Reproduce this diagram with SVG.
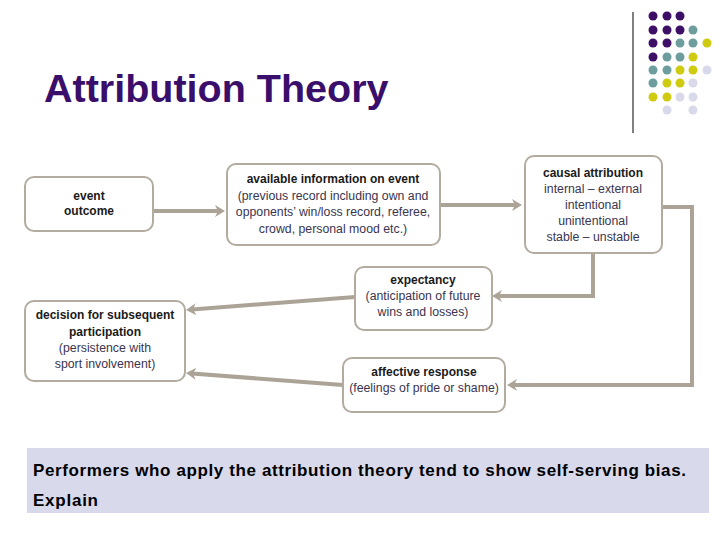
<svg xmlns="http://www.w3.org/2000/svg" width="728" height="546" viewBox="0 0 728 546">
<style>
.box{fill:#fff;stroke:#b3ab9f;stroke-width:2}
.h{font-family:"Liberation Sans",Arial,sans-serif;font-weight:bold;font-size:12px;fill:#1a1a1a;text-anchor:middle}
.t{font-family:"Liberation Sans",Arial,sans-serif;font-size:12.3px;fill:#3a3550;text-anchor:middle}
.q{font-family:"Liberation Sans",Arial,sans-serif;font-weight:bold;font-size:17px;fill:#000}
.c{fill:none;stroke:#aba395;stroke-width:4;marker-end:url(#ah)}
.p{fill:#3d0f66}.g{fill:#6e9d9e}.y{fill:#cfcb10}.l{fill:#d9d9ec}
</style>
<defs>
<marker id="ah" markerUnits="userSpaceOnUse" viewBox="0 0 10 12" refX="4" refY="6" markerWidth="10" markerHeight="12" orient="auto">
<path d="M0,0 L10,6 L0,12 L3,6 Z" fill="#aba395"/>
</marker>
</defs>
<rect width="728" height="546" fill="#fff"/>
<g id="title">
<text x="44" y="102" font-family="'Liberation Sans',Arial,sans-serif" font-weight="bold" font-size="39.5" fill="#3a0f6b">Attribution Theory</text>
</g>
<g id="decor">
<line x1="633" y1="12" x2="633" y2="133" stroke="#000" stroke-width="1"/>
<circle class="p" cx="653" cy="16" r="4.5"/><circle class="p" cx="667" cy="16" r="4.5"/><circle class="p" cx="680" cy="16" r="4.5"/>
<circle class="p" cx="653" cy="30" r="4.5"/><circle class="p" cx="667" cy="30" r="4.5"/><circle class="p" cx="680" cy="30" r="4.5"/><circle class="g" cx="693" cy="30" r="4.5"/>
<circle class="p" cx="653" cy="43" r="4.5"/><circle class="p" cx="667" cy="43" r="4.5"/><circle class="g" cx="680" cy="43" r="4.5"/><circle class="g" cx="693" cy="43" r="4.5"/><circle class="y" cx="707" cy="43" r="4.5"/>
<circle class="p" cx="653" cy="57" r="4.5"/><circle class="g" cx="667" cy="57" r="4.5"/><circle class="g" cx="680" cy="57" r="4.5"/><circle class="y" cx="693" cy="57" r="4.5"/>
<circle class="g" cx="653" cy="70" r="4.5"/><circle class="g" cx="667" cy="70" r="4.5"/><circle class="y" cx="680" cy="70" r="4.5"/><circle class="y" cx="693" cy="70" r="4.5"/><circle class="l" cx="707" cy="70" r="4.5"/>
<circle class="g" cx="653" cy="83" r="4.5"/><circle class="y" cx="667" cy="83" r="4.5"/><circle class="y" cx="680" cy="83" r="4.5"/><circle class="l" cx="693" cy="83" r="4.5"/>
<circle class="y" cx="653" cy="97" r="4.5"/><circle class="y" cx="667" cy="97" r="4.5"/><circle class="l" cx="680" cy="97" r="4.5"/><circle class="l" cx="693" cy="97" r="4.5"/>
<circle class="l" cx="667" cy="110" r="4.5"/><circle class="l" cx="693" cy="110" r="4.5"/>
</g>
<g id="connectors">
<path class="c" d="M153,211 H219"/>
<path class="c" d="M440,205 H516"/>
<path class="c" d="M593,253 V296 H498"/>
<path class="c" d="M662,207 H692 V385 H513"/>
<path class="c" d="M355,297 L192,309.5"/>
<path class="c" d="M343,385 L192,373.5"/>
</g>
<g id="event">
<rect class="box" x="25" y="177" width="128" height="54" rx="9"/>
<text class="h" x="89" y="200">event</text>
<text class="h" x="89" y="215">outcome</text>
</g>
<g id="available">
<rect class="box" x="227" y="164" width="213" height="81" rx="9"/>
<text class="h" x="333" y="183">available information on event</text>
<text class="t" x="333" y="200">(previous record including own and</text>
<text class="t" x="333" y="216">opponents’ win/loss record, referee,</text>
<text class="t" x="333" y="233">crowd, personal mood etc.)</text>
</g>
<g id="causal">
<rect class="box" x="525" y="156" width="137" height="97" rx="9"/>
<text class="h" x="593" y="177">causal attribution</text>
<text class="t" x="593" y="193">internal – external</text>
<text class="t" x="593" y="209">intentional</text>
<text class="t" x="593" y="225">unintentional</text>
<text class="t" x="593" y="241">stable – unstable</text>
</g>
<g id="expectancy">
<rect class="box" x="355" y="267" width="137" height="63" rx="9"/>
<text class="h" x="423" y="284">expectancy</text>
<text class="t" x="423" y="300">(anticipation of future</text>
<text class="t" x="423" y="316">wins and losses)</text>
</g>
<g id="affective">
<rect class="box" x="343" y="358" width="162" height="54" rx="9"/>
<text class="h" x="424" y="376">affective response</text>
<text class="t" x="424" y="392">(feelings of pride or shame)</text>
</g>
<g id="decision">
<rect class="box" x="25" y="301" width="160" height="80" rx="9"/>
<text class="h" x="105" y="319">decision for subsequent</text>
<text class="h" x="105" y="336">participation</text>
<text class="t" x="105" y="352">(persistence with</text>
<text class="t" x="105" y="368">sport involvement)</text>
</g>
<g id="question">
<rect x="27" y="448" width="682" height="65" fill="#d9d9ec"/>
<text class="q" x="33" y="476" textLength="653" lengthAdjust="spacing">Performers who apply the attribution theory tend to show self-serving bias.</text>
<text class="q" x="33" y="506" textLength="65" lengthAdjust="spacing">Explain</text>
</g>
</svg>
